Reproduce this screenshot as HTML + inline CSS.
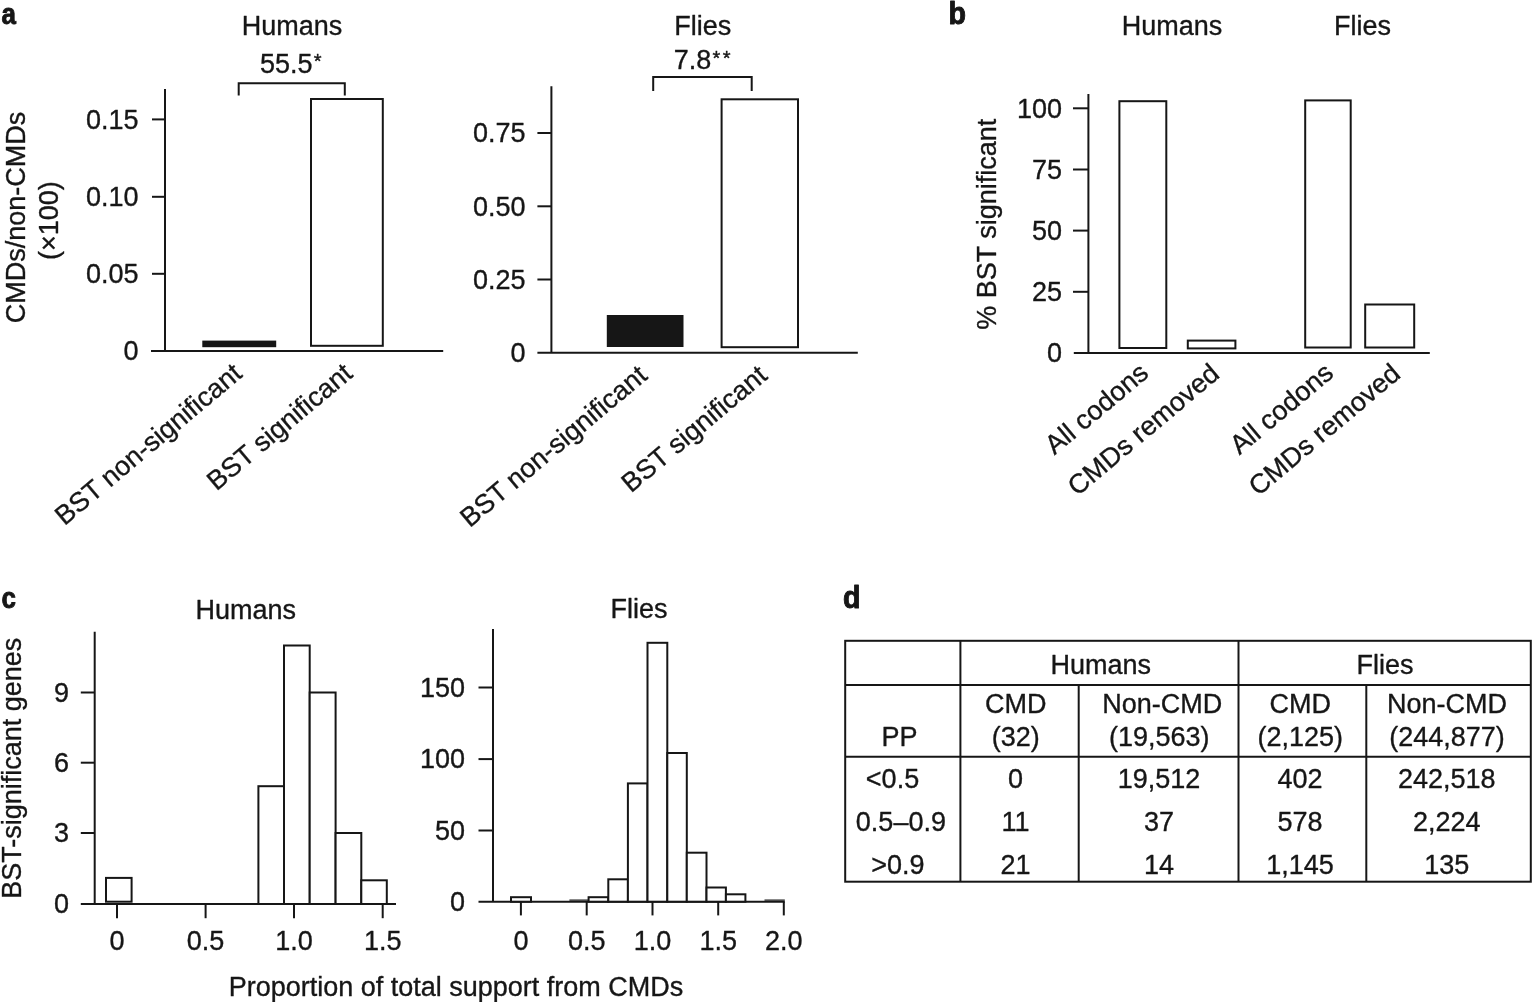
<!DOCTYPE html>
<html lang="en">
<head>
<meta charset="utf-8">
<title>Figure: CMDs and BST significance in humans and flies</title>
<style>
html,body{margin:0;padding:0;background:#fff;}
body{width:1532px;height:1002px;overflow:hidden;}
svg{display:block;}
svg text{font-family:"Liberation Sans",sans-serif;font-size:27px;fill:#161616;stroke:#161616;stroke-width:0.35px;stroke-linejoin:round;}
svg text.pl{font-family:"Liberation Sans",sans-serif;font-weight:bold;font-size:29.5px;stroke:#161616;stroke-width:0.9px;stroke-linejoin:round;}
</style>
</head>
<body>
<svg width="1532" height="1002" viewBox="0 0 1532 1002" role="img" aria-label="Four-panel figure: bar charts, histograms and a table comparing CMDs in humans and flies">
<rect x="0" y="0" width="1532" height="1002" fill="#fff" stroke="none"/>
<g stroke="#161616" stroke-linecap="butt" stroke-linejoin="miter">
<text class="pl" transform="translate(1.6 24.2) scale(0.88 1)" x="0" y="0">a</text>
<text class="pl" transform="translate(948.6 23.8) scale(0.97 1.045)" x="0" y="0">b</text>
<text class="pl" transform="translate(1.6 608.4) scale(0.88 1)" x="0" y="0">c</text>
<text class="pl" transform="translate(842.9 608.0) scale(0.97 1.045)" x="0" y="0">d</text>
<text x="292" y="35" text-anchor="middle">Humans</text>
<text x="260.0" y="72.6">55.5<tspan font-size="20" dx="1.2" dy="-4.3" letter-spacing="2.4">*</tspan></text>
<polyline points="238.7,95.5 238.7,83.2 344.8,83.2 344.8,95.5" fill="none" stroke-width="2"/>
<line x1="165" y1="89" x2="165" y2="351" stroke-width="2"/>
<line x1="151" y1="351" x2="443.2" y2="351" stroke-width="2"/>
<line x1="152" y1="119.4" x2="165" y2="119.4" stroke-width="2"/>
<text x="138.5" y="128.7" text-anchor="end">0.15</text>
<line x1="152" y1="196.8" x2="165" y2="196.8" stroke-width="2"/>
<text x="138.5" y="206.1" text-anchor="end">0.10</text>
<line x1="152" y1="273.8" x2="165" y2="273.8" stroke-width="2"/>
<text x="138.5" y="283.1" text-anchor="end">0.05</text>
<text x="138.5" y="360.3" text-anchor="end">0</text>
<rect x="202.3" y="340.6" width="73.9" height="6.6" fill="#161616" stroke="none"/>
<rect x="311" y="99" width="71.8" height="246.8" fill="#fff" stroke-width="2"/>
<text x="243.5" y="376" text-anchor="end" transform="rotate(-40 243.5 376)">BST non-significant</text>
<text x="354" y="376" text-anchor="end" transform="rotate(-40 354 376)">BST significant</text>
<text x="25" y="217.5" text-anchor="middle" transform="rotate(-90 25 217.5)">CMDs/non-CMDs</text>
<text x="58.3" y="220.7" text-anchor="middle" transform="rotate(-90 58.3 220.7)">(×100)</text>
<text x="702.7" y="34.8" text-anchor="middle">Flies</text>
<text x="673.8" y="69">7.8<tspan font-size="20" dx="1.2" dy="-4.3" letter-spacing="2.4">**</tspan></text>
<polyline points="653.2,91 653.2,77 751.7,77 751.7,91" fill="none" stroke-width="2"/>
<line x1="551.4" y1="86.2" x2="551.4" y2="352.7" stroke-width="2"/>
<line x1="537.4" y1="352.7" x2="857.8" y2="352.7" stroke-width="2"/>
<line x1="537.4" y1="133" x2="551.4" y2="133" stroke-width="2"/>
<text x="525.5" y="142.3" text-anchor="end">0.75</text>
<line x1="537.4" y1="206.3" x2="551.4" y2="206.3" stroke-width="2"/>
<text x="525.5" y="215.6" text-anchor="end">0.50</text>
<line x1="537.4" y1="279.5" x2="551.4" y2="279.5" stroke-width="2"/>
<text x="525.5" y="288.8" text-anchor="end">0.25</text>
<text x="525.5" y="362.0" text-anchor="end">0</text>
<rect x="606.8" y="315" width="76.7" height="32" fill="#161616" stroke="none"/>
<rect x="721.6" y="99.3" width="76.4" height="247.9" fill="#fff" stroke-width="2"/>
<text x="648.7" y="378" text-anchor="end" transform="rotate(-40 648.7 378)">BST non-significant</text>
<text x="768.7" y="378" text-anchor="end" transform="rotate(-40 768.7 378)">BST significant</text>
<text x="1172" y="34.8" text-anchor="middle">Humans</text>
<text x="1362.6" y="34.8" text-anchor="middle">Flies</text>
<line x1="1088.4" y1="94" x2="1088.4" y2="352.9" stroke-width="2"/>
<line x1="1073.8" y1="352.9" x2="1429.8" y2="352.9" stroke-width="2"/>
<line x1="1073" y1="108.3" x2="1088.4" y2="108.3" stroke-width="2"/>
<text x="1062" y="117.6" text-anchor="end">100</text>
<line x1="1073" y1="169.5" x2="1088.4" y2="169.5" stroke-width="2"/>
<text x="1062" y="178.8" text-anchor="end">75</text>
<line x1="1073" y1="230.6" x2="1088.4" y2="230.6" stroke-width="2"/>
<text x="1062" y="239.9" text-anchor="end">50</text>
<line x1="1073" y1="291.8" x2="1088.4" y2="291.8" stroke-width="2"/>
<text x="1062" y="301.1" text-anchor="end">25</text>
<text x="1062" y="362.2" text-anchor="end">0</text>
<rect x="1119.4" y="101.2" width="46.9" height="246.8" fill="#fff" stroke-width="2"/>
<rect x="1187.8" y="340.6" width="47.6" height="7.8" fill="#fff" stroke-width="2"/>
<rect x="1305.2" y="100.4" width="45.5" height="247.1" fill="#fff" stroke-width="2"/>
<rect x="1365.2" y="304.5" width="49.0" height="43.0" fill="#fff" stroke-width="2"/>
<text x="1150" y="375.5" text-anchor="end" transform="rotate(-40 1150 375.5)">All codons</text>
<text x="1221" y="376.3" text-anchor="end" transform="rotate(-40 1221 376.3)">CMDs removed</text>
<text x="1335" y="375.5" text-anchor="end" transform="rotate(-40 1335 375.5)">All codons</text>
<text x="1402" y="376.3" text-anchor="end" transform="rotate(-40 1402 376.3)">CMDs removed</text>
<text x="996" y="224.2" text-anchor="middle" transform="rotate(-90 996 224.2)">% BST significant</text>
<text x="245.8" y="618.7" text-anchor="middle">Humans</text>
<line x1="94.7" y1="631.7" x2="94.7" y2="904" stroke-width="2"/>
<line x1="80.8" y1="904" x2="396" y2="904" stroke-width="2"/>
<line x1="80.8" y1="692.5" x2="94.7" y2="692.5" stroke-width="2"/>
<text x="69" y="701.8" text-anchor="end">9</text>
<line x1="80.8" y1="762.7" x2="94.7" y2="762.7" stroke-width="2"/>
<text x="69" y="772.0" text-anchor="end">6</text>
<line x1="80.8" y1="833" x2="94.7" y2="833" stroke-width="2"/>
<text x="69" y="842.3" text-anchor="end">3</text>
<text x="69" y="913.3" text-anchor="end">0</text>
<line x1="117" y1="904" x2="117" y2="918.2" stroke-width="2"/>
<text x="117" y="949.7" text-anchor="middle">0</text>
<line x1="205.6" y1="904" x2="205.6" y2="918.2" stroke-width="2"/>
<text x="205.6" y="949.7" text-anchor="middle">0.5</text>
<line x1="294" y1="904" x2="294" y2="918.2" stroke-width="2"/>
<text x="294" y="949.7" text-anchor="middle">1.0</text>
<line x1="382.7" y1="904" x2="382.7" y2="918.2" stroke-width="2"/>
<text x="382.7" y="949.7" text-anchor="middle">1.5</text>
<rect x="106" y="877.9" width="25.6" height="23.8" fill="#fff" stroke-width="2"/>
<rect x="258.4" y="786.2" width="25.6" height="117.8" fill="#fff" stroke-width="2"/>
<rect x="284" y="645.5" width="25.7" height="258.5" fill="#fff" stroke-width="2"/>
<rect x="309.7" y="692.5" width="25.9" height="211.5" fill="#fff" stroke-width="2"/>
<rect x="335.6" y="833" width="25.7" height="71" fill="#fff" stroke-width="2"/>
<rect x="361.3" y="880.3" width="25.5" height="23.7" fill="#fff" stroke-width="2"/>
<text x="21" y="768.3" text-anchor="middle" transform="rotate(-90 21 768.3)" font-size="27.3">BST-significant genes</text>
<text x="456" y="995.5" text-anchor="middle">Proportion of total support from CMDs</text>
<text x="639" y="618.1" text-anchor="middle">Flies</text>
<line x1="493" y1="629" x2="493" y2="901.7" stroke-width="2"/>
<line x1="478.5" y1="901.7" x2="784.8" y2="901.7" stroke-width="2"/>
<line x1="478.5" y1="687.5" x2="493" y2="687.5" stroke-width="2"/>
<text x="465" y="696.8" text-anchor="end">150</text>
<line x1="478.5" y1="759.1" x2="493" y2="759.1" stroke-width="2"/>
<text x="465" y="768.4" text-anchor="end">100</text>
<line x1="478.5" y1="830.5" x2="493" y2="830.5" stroke-width="2"/>
<text x="465" y="839.8" text-anchor="end">50</text>
<text x="465" y="911.0" text-anchor="end">0</text>
<line x1="520.9" y1="901.7" x2="520.9" y2="915.4" stroke-width="2"/>
<text x="520.9" y="949.7" text-anchor="middle">0</text>
<line x1="586.7" y1="901.7" x2="586.7" y2="915.4" stroke-width="2"/>
<text x="586.7" y="949.7" text-anchor="middle">0.5</text>
<line x1="652.5" y1="901.7" x2="652.5" y2="915.4" stroke-width="2"/>
<text x="652.5" y="949.7" text-anchor="middle">1.0</text>
<line x1="718.2" y1="901.7" x2="718.2" y2="915.4" stroke-width="2"/>
<text x="718.2" y="949.7" text-anchor="middle">1.5</text>
<line x1="783.8" y1="901.7" x2="783.8" y2="915.4" stroke-width="2"/>
<text x="783.8" y="949.7" text-anchor="middle">2.0</text>
<rect x="511" y="897.2" width="20" height="4.5" fill="#fff" stroke-width="2"/>
<rect x="588.6" y="897.2" width="19.7" height="4.5" fill="#fff" stroke-width="2"/>
<rect x="608.3" y="879.3" width="19.6" height="22.4" fill="#fff" stroke-width="2"/>
<rect x="627.9" y="783.4" width="19.6" height="118.3" fill="#fff" stroke-width="2"/>
<rect x="647.5" y="642.8" width="19.8" height="258.9" fill="#fff" stroke-width="2"/>
<rect x="667.3" y="753" width="19.5" height="148.7" fill="#fff" stroke-width="2"/>
<rect x="686.8" y="852.7" width="19.7" height="49.0" fill="#fff" stroke-width="2"/>
<rect x="706.5" y="887.5" width="19.4" height="14.2" fill="#fff" stroke-width="2"/>
<rect x="725.9" y="894.3" width="19.5" height="7.4" fill="#fff" stroke-width="2"/>
<line x1="569.4" y1="900.1" x2="588.6" y2="900.1" stroke-width="1.2"/>
<line x1="764.5" y1="900.1" x2="784.8" y2="900.1" stroke-width="1.2"/>
<rect x="845.2" y="640.8" width="685.5999999999999" height="240.9" fill="none" stroke-width="2"/>
<line x1="845.2" y1="685" x2="1530.8" y2="685" stroke-width="2"/>
<line x1="845.2" y1="756.8" x2="1530.8" y2="756.8" stroke-width="2"/>
<line x1="960.4" y1="640.8" x2="960.4" y2="881.7" stroke-width="2"/>
<line x1="1238.5" y1="640.8" x2="1238.5" y2="881.7" stroke-width="2"/>
<line x1="1078.7" y1="685" x2="1078.7" y2="881.7" stroke-width="2"/>
<line x1="1366.3" y1="685" x2="1366.3" y2="881.7" stroke-width="2"/>
<text x="1100.7" y="674.0" text-anchor="middle">Humans</text>
<text x="1385" y="674.0" text-anchor="middle">Flies</text>
<text x="899.5" y="746.2" text-anchor="middle">PP</text>
<text x="1015.8" y="713.4" text-anchor="middle">CMD</text>
<text x="1015.8" y="746.2" text-anchor="middle">(32)</text>
<text x="1162.3" y="713.4" text-anchor="middle">Non-CMD</text>
<text x="1159.2" y="746.2" text-anchor="middle">(19,563)</text>
<text x="1300.2" y="713.4" text-anchor="middle">CMD</text>
<text x="1300.2" y="746.2" text-anchor="middle">(2,125)</text>
<text x="1447" y="713.4" text-anchor="middle">Non-CMD</text>
<text x="1447" y="746.2" text-anchor="middle">(244,877)</text>
<text x="892.5" y="788.3" text-anchor="middle">&lt;0.5</text>
<text x="1015.6" y="788.3" text-anchor="middle">0</text>
<text x="1159" y="788.3" text-anchor="middle">19,512</text>
<text x="1300" y="788.3" text-anchor="middle">402</text>
<text x="1446.7" y="788.3" text-anchor="middle">242,518</text>
<text x="900.9" y="831.1" text-anchor="middle">0.5–0.9</text>
<text x="1015.6" y="831.1" text-anchor="middle">11</text>
<text x="1159" y="831.1" text-anchor="middle">37</text>
<text x="1300" y="831.1" text-anchor="middle">578</text>
<text x="1446.7" y="831.1" text-anchor="middle">2,224</text>
<text x="897.9" y="874.1" text-anchor="middle">&gt;0.9</text>
<text x="1015.6" y="874.1" text-anchor="middle">21</text>
<text x="1159" y="874.1" text-anchor="middle">14</text>
<text x="1300" y="874.1" text-anchor="middle">1,145</text>
<text x="1446.7" y="874.1" text-anchor="middle">135</text>
</g>
</svg>
</body>
</html>
